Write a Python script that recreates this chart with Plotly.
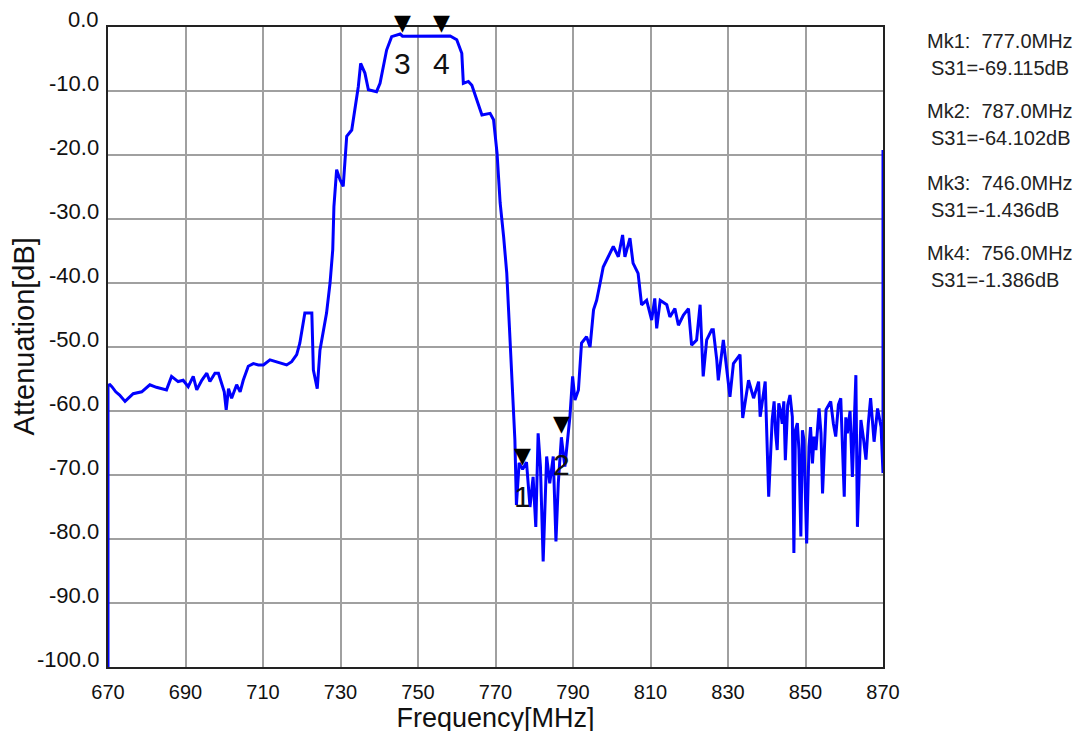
import plotly.graph_objects as go

# ---- data ----
freq_mhz = [
    670.0, 670.0, 670.5, 671.0, 672.0, 673.0, 674.4, 675.5, 676.5, 678.7,
    680.8, 682.5, 684.3, 685.1, 686.4, 688.1, 689.4, 690.7, 692.0, 692.9,
    694.2, 695.5, 696.3, 697.6, 698.5, 699.3, 700.0, 700.5, 701.1, 701.9,
    703.2, 704.1, 704.9, 706.2, 707.5, 708.8, 710.1, 711.8, 713.5, 716.1,
    717.4, 718.7, 719.5, 720.8, 722.6, 723.0, 724.0, 724.7, 726.4, 727.3,
    728.0, 728.3, 729.0, 729.9, 730.7, 731.6, 732.9, 733.7, 734.6, 735.2,
    736.3, 737.2, 739.3, 740.2, 741.0, 741.9, 743.2, 745.4, 746.0, 750.5,
    753.1, 755.7, 756.0, 758.3, 760.0, 761.3, 761.7, 763.0, 763.9, 765.2,
    766.5, 768.6, 769.5, 770.4, 771.2, 772.1, 772.9, 773.6, 774.6, 775.0,
    775.4, 776.1, 777.0, 778.0, 778.9, 779.7, 780.4, 781.0, 781.6, 782.3,
    783.2, 784.0, 784.9, 785.6, 786.2, 787.0, 787.9, 789.2, 789.9, 790.5,
    791.4, 792.2, 793.5, 794.4, 795.3, 796.1, 797.0, 797.8, 799.1, 800.4,
    801.7, 802.8, 803.4, 804.7, 805.5, 806.8, 807.7, 809.0, 810.3, 811.1,
    811.6, 812.5, 814.2, 815.0, 816.3, 817.2, 818.5, 819.8, 820.6, 821.9,
    822.8, 823.6, 824.5, 825.8, 826.2, 827.1, 827.5, 828.8, 830.5, 831.4,
    833.1, 833.8, 835.3, 836.6, 837.9, 838.3, 839.6, 840.5, 841.4, 841.9,
    842.3, 842.7, 843.1, 843.5, 844.0, 844.4, 844.8, 845.4, 846.0, 846.6,
    847.0, 847.4, 847.9, 848.3, 848.8, 849.2, 849.6, 850.3, 850.9, 851.3,
    851.8, 852.2, 852.7, 853.5, 854.0, 854.4, 855.3, 856.5, 857.2, 857.8,
    858.5, 859.1, 860.0, 860.4, 860.8, 861.5, 862.1, 863.0, 863.4, 864.3,
    865.0, 865.6, 866.2, 866.8, 867.7, 868.6, 869.5, 869.9, 870.0, 870.0,
]
s31_db = [
    -100.0, -56.0, -55.9, -56.2, -57.0, -57.5, -58.5, -57.8, -57.3, -57.0,
    -55.9, -56.3, -56.5, -56.7, -54.6, -55.4, -55.2, -56.2, -54.6, -56.7,
    -55.2, -54.1, -55.4, -54.1, -54.1, -55.7, -57.0, -59.8, -56.5, -58.0,
    -55.9, -57.0, -55.2, -53.0, -52.6, -52.8, -52.8, -52.0, -52.3, -52.8,
    -52.3, -51.2, -49.4, -44.7, -44.7, -53.6, -56.5, -50.5, -44.7, -40.0,
    -34.8, -28.1, -22.3, -23.9, -24.9, -17.1, -16.1, -13.0, -9.3, -5.7,
    -7.2, -9.8, -10.1, -8.8, -6.2, -3.6, -1.5, -1.1, -1.436, -1.4,
    -1.4, -1.35, -1.386, -1.4, -2.0, -4.1, -8.8, -8.5, -9.1, -11.4,
    -13.75, -13.5, -14.5, -19.7, -27.5, -32.8, -38.4, -47.0, -58.3, -64.5,
    -74.7, -68.1, -69.115, -68.0, -75.0, -70.3, -78.1, -63.5, -68.7, -83.5,
    -67.1, -71.3, -67.1, -80.4, -71.3, -64.102, -68.7, -60.9, -54.6, -58.3,
    -56.7, -49.4, -48.4, -50.0, -44.2, -42.7, -40.0, -37.5, -35.9, -34.3,
    -35.9, -32.5, -35.9, -33.0, -36.9, -38.5, -43.4, -42.7, -45.8, -42.4,
    -47.1, -42.7, -43.4, -45.3, -44.0, -46.6, -45.0, -44.0, -49.7, -48.9,
    -43.4, -54.6, -48.9, -47.3, -47.3, -52.0, -55.2, -48.9, -57.8, -52.6,
    -51.2, -61.1, -55.2, -58.0, -55.4, -60.9, -55.4, -73.4, -61.4, -58.5,
    -63.5, -66.1, -58.8, -59.8, -62.0, -58.5, -67.7, -59.1, -57.5, -60.9,
    -82.2, -63.0, -61.9, -66.0, -79.6, -63.0, -64.5, -80.7, -65.6, -62.5,
    -68.2, -64.0, -66.1, -59.6, -63.5, -72.9, -59.8, -58.5, -62.0, -64.0,
    -59.0, -58.0, -73.4, -61.0, -63.5, -60.0, -70.3, -54.4, -78.1, -61.4,
    -64.5, -67.6, -62.0, -58.0, -64.8, -59.6, -62.5, -69.7, -69.7, -19.2,
]

marker_ids = ["1", "2", "3", "4"]
marker_freq = [777.0, 787.0, 746.0, 756.0]
marker_s31 = [-69.115, -64.102, -1.436, -1.386]

x_ticks = [670, 690, 710, 730, 750, 770, 790, 810, 830, 850, 870]
y_ticks = [0, -10, -20, -30, -40, -50, -60, -70, -80, -90, -100]

FONT = "Liberation Sans, Arial, sans-serif"

fig = go.Figure()
fig.add_trace(go.Scatter(
    x=freq_mhz, y=s31_db, mode="lines",
    line=dict(color="#0000FF", width=3),
    showlegend=False, hoverinfo="skip",
))

annotations = []
for mid, f, v in zip(marker_ids, marker_freq, marker_s31):
    annotations.append(dict(
        x=f, y=v, xref="x", yref="y", text="▼", showarrow=False,
        yanchor="bottom", yshift=0, borderpad=0,
        font=dict(family="DejaVu Sans", size=22, color="#000000"),
    ))
    annotations.append(dict(
        x=f, y=v, xref="x", yref="y", text=mid, showarrow=False,
        yanchor="top", yshift=-9,
        font=dict(family=FONT, size=30, color="#111111"),
    ))

# y tick labels (drawn slightly above their grid lines, as in the reference)
for t in y_ticks:
    annotations.append(dict(
        x=0, y=t, xref="paper", yref="y", text="%.1f" % t, showarrow=False,
        xanchor="right", yanchor="middle", xshift=-7, yshift=8,
        font=dict(family=FONT, size=22, color="#111111"),
    ))

# y axis title
annotations.append(dict(
    x=-0.108, y=0.517, xref="paper", yref="paper", text="Attenuation[dB]",
    showarrow=False, textangle=-90, xanchor="center", yanchor="middle",
    font=dict(family=FONT, size=29, color="#111111"),
))

# side readout text (pixel positions converted to paper fraction)
x_left_px = 100
plot_w = 775
plot_h = 640
plot_bottom_px = 659
side_lines = []
for mid, f, v in sorted(zip(marker_ids, marker_freq, marker_s31)):
    side_lines.append(("Mk%s:  %.1fMHz" % (mid, f), 0))
    side_lines.append(("S31=%.3fdB" % v, 4))
line_y_px = [33, 60, 103, 130, 175, 202, 245, 272]
for (txt, indent), ypx in zip(side_lines, line_y_px):
    annotations.append(dict(
        x=(917 + indent - x_left_px) / plot_w,
        y=(plot_bottom_px - ypx) / plot_h,
        xref="paper", yref="paper", text=txt, showarrow=False,
        xanchor="left", yanchor="middle",
        font=dict(family=FONT, size=20, color="#222222"),
    ))

fig.update_layout(
    width=1085, height=731,
    margin=dict(l=100, r=210, t=19, b=72),
    paper_bgcolor="white", plot_bgcolor="white",
    annotations=annotations,
    font=dict(family=FONT, color="#111111"),
)
fig.update_xaxes(
    range=[670, 870], tickvals=x_ticks, ticktext=[str(t) for t in x_ticks],
    showgrid=True, gridcolor="#a0a0a0", gridwidth=2,
    showline=True, linecolor="#222222", linewidth=2, mirror=True,
    zeroline=False, ticks="", tickfont=dict(size=20, family=FONT),
    ticklabelstandoff=6,
    title=dict(text="Frequency[MHz]", font=dict(size=27, family=FONT), standoff=0),
)
fig.update_yaxes(
    range=[-100, 0], tickvals=y_ticks, showticklabels=False,
    showgrid=True, gridcolor="#a0a0a0", gridwidth=2,
    showline=True, linecolor="#222222", linewidth=2, mirror=True,
    zeroline=False, ticks="",
)

fig.write_html("out.html")
